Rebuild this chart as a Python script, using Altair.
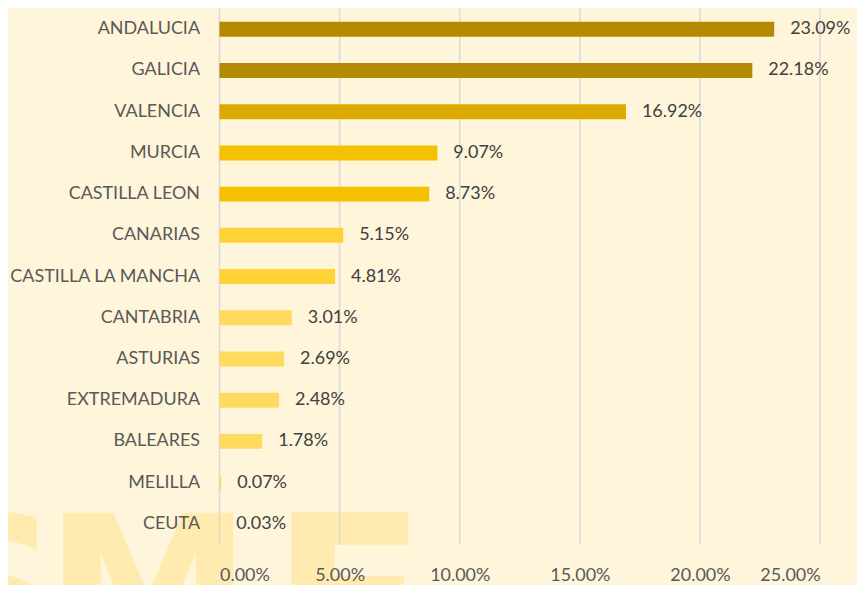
import altair as alt
import pandas as pd

regions = ["ANDALUCIA", "GALICIA", "VALENCIA", "MURCIA", "CASTILLA LEON", "CANARIAS",
           "CASTILLA LA MANCHA", "CANTABRIA", "ASTURIAS", "EXTREMADURA", "BALEARES",
           "MELILLA", "CEUTA"]
shares = [23.09, 22.18, 16.92, 9.07, 8.73, 5.15, 4.81, 3.01, 2.69, 2.48, 1.78, 0.07, 0.03]
tiers = ["t1", "t1", "t2", "t3", "t3", "t4", "t4", "t5", "t5", "t5", "t5", "t5", "t5"]
tier_names = ["t1", "t2", "t3", "t4", "t5"]
tier_colors = ["#B38A00", "#DAAA00", "#F4C000", "#FFD335", "#FFDA5E"]
x_ticks = [0, 0.05, 0.10, 0.15, 0.20, 0.25]

df = pd.DataFrame({
    "region": regions,
    "share": [s / 100 for s in shares],
    "tier": tiers,
})
grid_df = pd.DataFrame({"v": x_ticks})

FONT = "Lato"
W, H = 602, 537

x_scale = alt.Scale(domain=[0, 0.25], nice=False)

wm_color = "#FFEBB0"
wm = alt.Chart(pd.DataFrame({"t": ["SME"]}))


def letter(txt, xpos, ypos, size, align):
    return wm.mark_text(font="DejaVu Sans", fontWeight="bold", fontSize=size,
                        color=wm_color, align=align,
                        baseline="alphabetic").encode(
        x=alt.value(xpos), y=alt.value(ypos), text=alt.value(txt))


watermark = (letter("S", -158, 658, 210, "right")
             + letter("M", -176, 658, 210, "left")
             + letter("E", 51, 673, 230, "left"))

grid = alt.Chart(grid_df).mark_rule(color="#D9D9D9", strokeWidth=1.5).encode(
    x=alt.X("v:Q", scale=x_scale),
    y=alt.value(0), y2=alt.value(H),
)

bars = alt.Chart(df).mark_bar(size=15).encode(
    x=alt.X("share:Q", scale=x_scale,
            axis=alt.Axis(values=x_ticks, format=".2%", title=None, grid=False,
                          domain=False, ticks=False, zindex=1,
                          labelFont=FONT, labelFontSize=18, labelColor="#595959",
                          labelPadding=22)),
    y=alt.Y("region:N", sort=regions,
            axis=alt.Axis(title=None, domain=False, ticks=False, labelFont=FONT,
                          labelFontSize=18, labelColor="#595959", labelPadding=20,
                          labelLimit=400, zindex=1),
            scale=alt.Scale(paddingInner=0, paddingOuter=0)),
    color=alt.Color("tier:N", scale=alt.Scale(domain=tier_names, range=tier_colors),
                    legend=None),
)

labels = alt.Chart(df).mark_text(align="left", baseline="middle", dx=16, font=FONT,
                                 fontSize=18, color="#404040").encode(
    x="share:Q",
    y=alt.Y("region:N", sort=regions),
    text=alt.Text("share:Q", format=".2%"),
)

chart = alt.layer(watermark, grid, bars, labels).properties(
    width=W, height=H,
    background="#FEF5DA",
    autosize=alt.AutoSizeParams(type="none"),
    padding={"left": 212, "top": 0, "right": 37, "bottom": 40},
).configure_view(stroke=None)

chart.save("out.html", embed_options={"renderer": "svg", "actions": False})
